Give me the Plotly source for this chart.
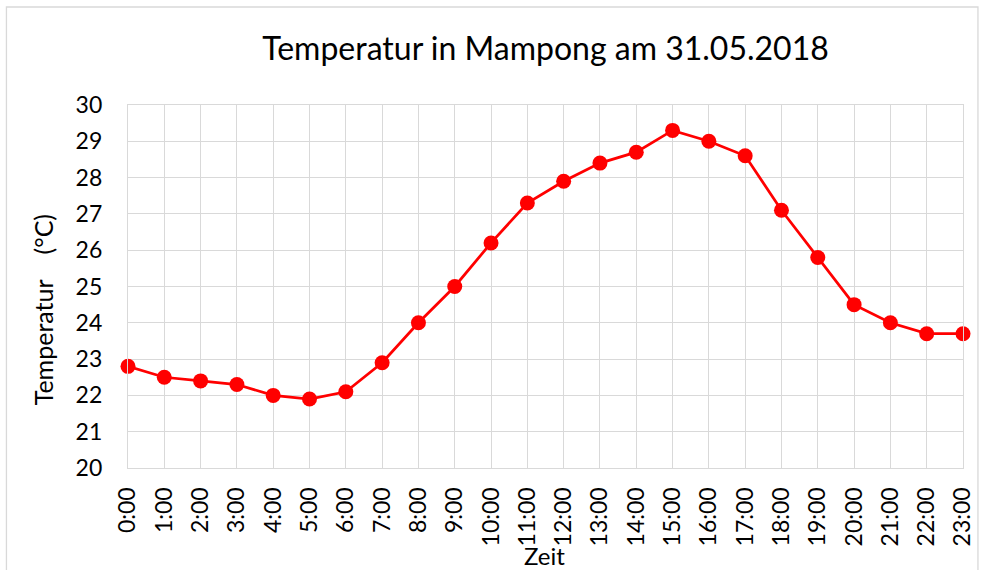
import plotly.graph_objects as go

hours = [f"{h}:00" for h in range(24)]
temps = [22.8, 22.5, 22.4, 22.3, 22.0, 21.9, 22.1, 22.9, 24.0, 25.0, 26.2, 27.3,
         27.9, 28.4, 28.7, 29.3, 29.0, 28.6, 27.1, 25.8, 24.5, 24.0, 23.7, 23.7]
y_ticks = list(range(20, 31))

FONT = "Lato, Calibri, Carlito, sans-serif"
GRID = "#d9d9d9"

# plot area in page pixels
L, R, T, B = 128, 966, 105, 468
W, H = 987, 570
pw, ph = R - L, B - T


def px(x):
    return (x - L) / pw


def py(y):
    return (B - y) / ph


fig = go.Figure()
fig.add_trace(go.Scatter(
    x=list(range(len(hours))), y=temps, mode="lines+markers",
    line=dict(color="#ff0000", width=2.75),
    marker=dict(color="#ff0000", size=15),
    cliponaxis=False, showlegend=False,
))

fig.update_layout(
    width=W, height=H,
    margin=dict(l=L, r=W - R, t=T, b=H - B),
    paper_bgcolor="white", plot_bgcolor="white",
    font=dict(family=FONT, color="black", size=23),
    title=dict(text="Temperatur in Mampong am 31.05.2018", x=px(547), xanchor="center",
               xref="paper", y=1 - 49 / H, yanchor="middle",
               font=dict(size=32, family=FONT)),
    xaxis=dict(
        range=[0, 23], tickmode="array", tickvals=list(range(24)), ticktext=hours,
        tickangle=-90, showgrid=True, gridcolor=GRID, gridwidth=1.3,
        showline=True, linecolor=GRID, linewidth=1.3, mirror=True,
        ticks="", tickfont=dict(size=23), zeroline=False, ticklabelstandoff=9,
    ),
    yaxis=dict(
        range=[20, 30], tickmode="array", tickvals=y_ticks,
        showgrid=True, gridcolor=GRID, gridwidth=1.3,
        showline=True, linecolor=GRID, linewidth=1.3, mirror=True,
        ticks="", tickfont=dict(size=23), zeroline=False, ticklabelstandoff=20,
    ),
    annotations=[
        dict(text="Temperatur    (°C)", xref="paper", yref="paper",
             x=px(43), y=py(310), textangle=-90,
             showarrow=False, font=dict(size=25, family=FONT),
             xanchor="center", yanchor="middle"),
        dict(text="Zeit", xref="paper", yref="paper",
             x=px(546), y=py(555), showarrow=False,
             font=dict(size=24, family=FONT), xanchor="center", yanchor="middle"),
    ],
    shapes=[
        dict(type="rect", xref="paper", yref="paper",
             x0=px(6), x1=px(981), y0=py(590), y1=py(7),
             line=dict(color=GRID, width=1.3), fillcolor="rgba(0,0,0,0)", layer="below"),
    ],
)

fig.write_html("out.html", config={"displayModeBar": False},
               post_script="document.body.style.margin='0';")
